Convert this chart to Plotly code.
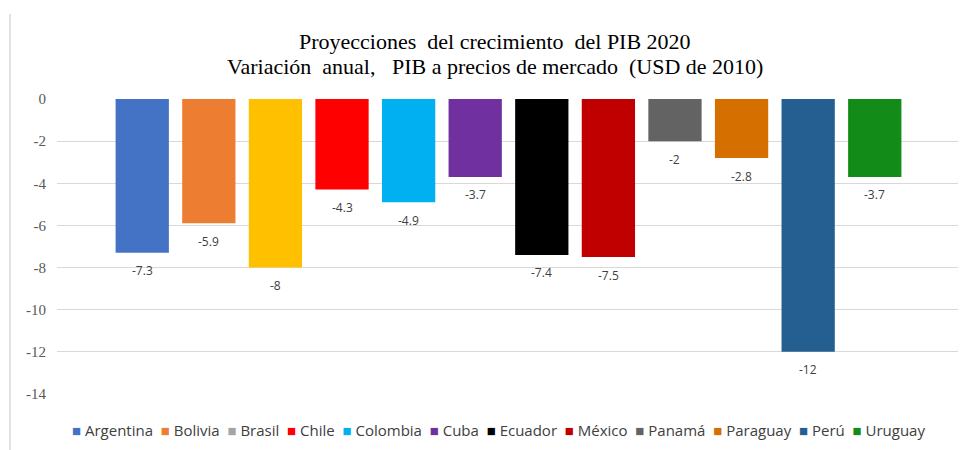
import plotly.graph_objects as go

countries = ["Argentina", "Bolivia", "Brasil", "Chile", "Colombia", "Cuba",
             "Ecuador", "México", "Panamá", "Paraguay", "Perú", "Uruguay"]
growth = [-7.3, -5.9, -8, -4.3, -4.9, -3.7, -7.4, -7.5, -2, -2.8, -12, -3.7]
bar_colors = ["#4472C4", "#ED7D31", "#FFC000", "#FF0000", "#00B0F0", "#7030A0",
              "#000000", "#C00000", "#636363", "#D46F00", "#255E91", "#138B18"]
legend_colors = ["#4472C4", "#ED7D31", "#A5A5A5", "#FF0000", "#00B0F0", "#7030A0",
                 "#000000", "#C00000", "#636363", "#D46F00", "#255E91", "#138B18"]
y_ticks = [0, -2, -4, -6, -8, -10, -12, -14]
title_lines = ["Proyecciones\u00a0 del crecimiento\u00a0 del PIB 2020",
               "Variación\u00a0 anual,\u00a0\u00a0 PIB a precios de mercado\u00a0 (USD de 2010)"]

fig = go.Figure()
for i, (c, v) in enumerate(zip(countries, growth)):
    fig.add_trace(go.Bar(
        x=[c], y=[v], name=c, width=0.8,
        marker=dict(color=bar_colors[i], line=dict(width=0)),
        showlegend=False, cliponaxis=False, hoverinfo="skip",
    ))

annotations = []
for c, v in zip(countries, growth):
    annotations.append(dict(
        x=c, y=v, xref="x", yref="y", text=f"{v:g}", showarrow=False,
        yanchor="middle", yshift=-18,
        font=dict(family="Open Sans", size=12, color="#404040"),
    ))

legend_text = "\u00a0 ".join(
    f"<span style='color:{col}'>■</span> {name}" for name, col in zip(countries, legend_colors)
)
annotations.append(dict(
    x=(498 - 57) / 901, y=(394 - 430) / 295, xref="paper", yref="paper",
    text=legend_text, showarrow=False, xanchor="center", yanchor="middle",
    font=dict(family="Open Sans", size=15, color="#404040"),
))

for line, py in zip(title_lines, [42, 67]):
    annotations.append(dict(
        x=(495 - 57) / 901, y=(394 - py) / 295, xref="paper", yref="paper",
        text=line, showarrow=False, xanchor="center", yanchor="middle",
        font=dict(family="Liberation Serif", size=22, color="#000000"),
    ))

fig.update_layout(
    width=965, height=450,
    paper_bgcolor="white", plot_bgcolor="white",
    barmode="overlay",
    margin=dict(l=57, r=7, t=99, b=56, autoexpand=False),
    xaxis=dict(
        type="category", range=[-1.28, 12.25], showticklabels=False,
        showgrid=False, zeroline=False, showline=False, ticks="", automargin=False,
    ),
    yaxis=dict(
        range=[-14, 0], tickvals=y_ticks, ticktext=[str(t) for t in y_ticks],
        showgrid=True, gridcolor="#D9D9D9", gridwidth=1.3,
        zeroline=False, showline=False, ticks="", automargin=False,
        tickfont=dict(family="Liberation Serif", size=15, color="#595959"),
        ticklabelstandoff=10,
    ),
    showlegend=False,
    annotations=annotations,
    shapes=[dict(type="line", xref="paper", yref="paper", x0=-(57-10)/901, x1=-(57-10)/901,
                 y0=-56/295, y1=1 + 85/295, line=dict(color="#D9D9D9", width=1.5))],
)

fig.write_html("out.html", config={"displayModeBar": False},
               post_script="document.body.style.margin='0px';")
